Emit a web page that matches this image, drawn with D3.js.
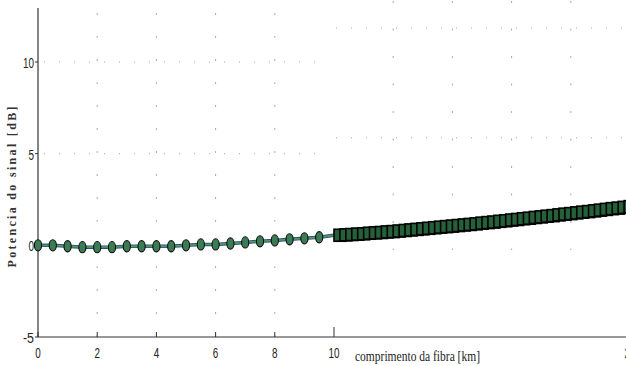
<!DOCTYPE html>
<html>
<head>
<meta charset="utf-8">
<script src="https://cdn.jsdelivr.net/npm/d3@7"></script>
<style>
  html, body { margin: 0; padding: 0; background: #fff; }
  svg { display: block; }
</style>
</head>
<body>
<div id="chart"></div>
<script>
// ── Data ──────────────────────────────────────────────────────────────

// first span: one marker every 0.5 km
const spanX = [0, 0.5, 1, 1.5, 2, 2.5, 3, 3.5, 4, 4.5, 5, 5.5, 6, 6.5, 7, 7.5, 8, 8.5, 9, 9.5, 10];
const spanY = [0, 0, -0.05, -0.1, -0.1, -0.1, -0.05, -0.05, -0.05, -0.05, 0, 0.05, 0.05, 0.1, 0.16, 0.22, 0.27, 0.33, 0.38, 0.44, 0.55];

// second span: dense samples every 0.2 km
const denseX = [10, 10.2, 10.4, 10.6, 10.8, 11, 11.2, 11.4, 11.6, 11.8, 12, 12.2, 12.4, 12.6, 12.8, 13, 13.2, 13.4, 13.6, 13.8,
  14, 14.2, 14.4, 14.6, 14.8, 15, 15.2, 15.4, 15.6, 15.8, 16, 16.2, 16.4, 16.6, 16.8, 17, 17.2, 17.4, 17.6, 17.8,
  18, 18.2, 18.4, 18.6, 18.8, 19, 19.2, 19.4, 19.6, 19.8, 20];
const denseY = [0.55, 0.57, 0.59, 0.61, 0.63, 0.66, 0.68, 0.70, 0.73, 0.75, 0.78, 0.81, 0.84, 0.87, 0.90, 0.93, 0.96, 0.99, 1.02, 1.05,
  1.08, 1.11, 1.14, 1.17, 1.21, 1.24, 1.27, 1.31, 1.34, 1.38, 1.41, 1.45, 1.48, 1.52, 1.55, 1.59, 1.62, 1.66, 1.70, 1.73,
  1.77, 1.81, 1.84, 1.88, 1.92, 1.96, 2.00, 2.03, 2.07, 2.11, 2.15];

const xTicks = [0, 2, 4, 6, 8, 10, 20];
const yTicks = [-5, 0, 5, 10];
const leftGridX = [2, 4, 6, 8];
const leftGridY = [5, 10];
const rightGridX = [12, 14, 16, 18];
const rightGridY = [5.87, 11.85];

// ── Layout ────────────────────────────────────────────────────────────

const W = 626, H = 366;
const x = d3.scaleLinear().domain([0, 20]).range([38, 630]);
const y = d3.scaleLinear().domain([-5, 10]).range([337, 62]);
const yTop = 8;

const svg = d3.select('#chart').append('svg')
  .attr('width', W).attr('height', H);

const gridColor = '#a8a8a8';

// left panel grid
svg.append('g').selectAll('line')
  .data(leftGridX).join('line')
  .attr('x1', d => x(d)).attr('x2', d => x(d))
  .attr('y1', yTop + 5).attr('y2', y(-5))
  .attr('stroke', gridColor).attr('stroke-width', 1)
  .attr('stroke-dasharray', '2,21');

svg.append('g').selectAll('line')
  .data(leftGridY).join('line')
  .attr('x1', x(0) + 6).attr('x2', x(10) - 10)
  .attr('y1', d => y(d)).attr('y2', d => y(d))
  .attr('stroke', gridColor).attr('stroke-width', 1)
  .attr('stroke-dasharray', '1,14');

// right panel grid
svg.append('g').selectAll('line')
  .data(rightGridX).join('line')
  .attr('x1', d => x(d)).attr('x2', d => x(d))
  .attr('y1', 0).attr('y2', 250)
  .attr('stroke', gridColor).attr('stroke-width', 1)
  .attr('stroke-dasharray', '2,25.5')
  .attr('stroke-dashoffset', -1);

svg.append('g').selectAll('line')
  .data(rightGridY).join('line')
  .attr('x1', x(10) + 2).attr('x2', W)
  .attr('y1', d => y(d)).attr('y2', d => y(d))
  .attr('stroke', gridColor).attr('stroke-width', 1)
  .attr('stroke-dasharray', '1,14');

// ── Axes ──────────────────────────────────────────────────────────────

const axisColor = '#333';
svg.append('line')
  .attr('x1', x(0)).attr('x2', x(0))
  .attr('y1', yTop).attr('y2', y(-5))
  .attr('stroke', axisColor).attr('stroke-width', 1.2);
svg.append('line')
  .attr('x1', x(0)).attr('x2', W)
  .attr('y1', y(-5)).attr('y2', y(-5))
  .attr('stroke', axisColor).attr('stroke-width', 1.2);

// x ticks
svg.append('g').selectAll('line')
  .data(xTicks).join('line')
  .attr('x1', d => x(d)).attr('x2', d => x(d))
  .attr('y1', d => d === 10 ? y(-5) - 10 : y(-5) - 5).attr('y2', y(-5))
  .attr('stroke', axisColor);

// y ticks
svg.append('g').selectAll('line')
  .data(yTicks).join('line')
  .attr('x1', x(0) - 3).attr('x2', x(0))
  .attr('y1', d => y(d)).attr('y2', d => y(d))
  .attr('stroke', axisColor);

const tickFont = 'Liberation Sans, Arial, sans-serif';

svg.append('g').selectAll('text')
  .data(xTicks).join('text')
  .attr('x', d => x(d))
  .attr('y', 358)
  .attr('text-anchor', 'middle')
  .attr('font-family', tickFont)
  .attr('font-size', 15)
  .attr('fill', '#222')
  .attr('textLength', d => String(d).length * 5.5)
  .attr('lengthAdjust', 'spacingAndGlyphs')
  .text(d => d);

svg.append('g').selectAll('text')
  .data(yTicks).join('text')
  .attr('x', x(0) - 4)
  .attr('y', d => y(d) + 6)
  .attr('text-anchor', 'end')
  .attr('font-family', tickFont)
  .attr('font-size', 15)
  .attr('fill', '#222')
  .attr('textLength', d => String(d).length * 5.5)
  .attr('lengthAdjust', 'spacingAndGlyphs')
  .text(d => d);

// axis titles
svg.append('text')
  .attr('x', 355).attr('y', 361)
  .attr('font-family', 'Liberation Serif, Times New Roman, serif')
  .attr('font-size', 14)
  .attr('fill', '#222')
  .attr('textLength', 125)
  .attr('lengthAdjust', 'spacingAndGlyphs')
  .text('comprimento da fibra [km]');

svg.append('text')
  .attr('transform', 'translate(16,187) rotate(-90)')
  .attr('text-anchor', 'middle')
  .attr('font-family', 'Liberation Serif, Times New Roman, serif')
  .attr('font-weight', 'bold')
  .attr('font-size', 12)
  .attr('fill', '#333')
  .attr('textLength', 161)
  .attr('lengthAdjust', 'spacing')
  .text('Potencia do sinal [dB]');

// ── Series ────────────────────────────────────────────────────────────

const span = spanX.map((v, i) => ({ x: v, y: spanY[i] }));
const dense = denseX.map((v, i) => ({ x: v, y: denseY[i] }));

const line = d3.line().x(d => x(d.x)).y(d => y(d.y));

svg.append('path')
  .datum(span)
  .attr('d', line)
  .attr('fill', 'none')
  .attr('stroke', '#2c4a86')
  .attr('stroke-width', 3.5);

svg.append('path')
  .datum(span)
  .attr('d', line)
  .attr('fill', 'none')
  .attr('stroke', '#4f9a5a')
  .attr('stroke-width', 1.8);

svg.append('g').selectAll('ellipse')
  .data(span.slice(0, -1)).join('ellipse')
  .attr('cx', d => x(d.x))
  .attr('cy', d => y(d.y))
  .attr('rx', 3.6).attr('ry', 5.6)
  .attr('fill', '#3b7c57')
  .attr('stroke', '#0d0d0d')
  .attr('stroke-width', 1.1);

// dense squares
const sq = 12;
svg.append('g').selectAll('rect')
  .data(dense).join('rect')
  .attr('x', d => x(d.x) - sq / 2 + 6)
  .attr('y', d => y(d.y) - sq / 2)
  .attr('width', sq).attr('height', sq)
  .attr('fill', '#25603a')
  .attr('stroke', '#000')
  .attr('stroke-width', 1.6);
</script>
</body>
</html>
